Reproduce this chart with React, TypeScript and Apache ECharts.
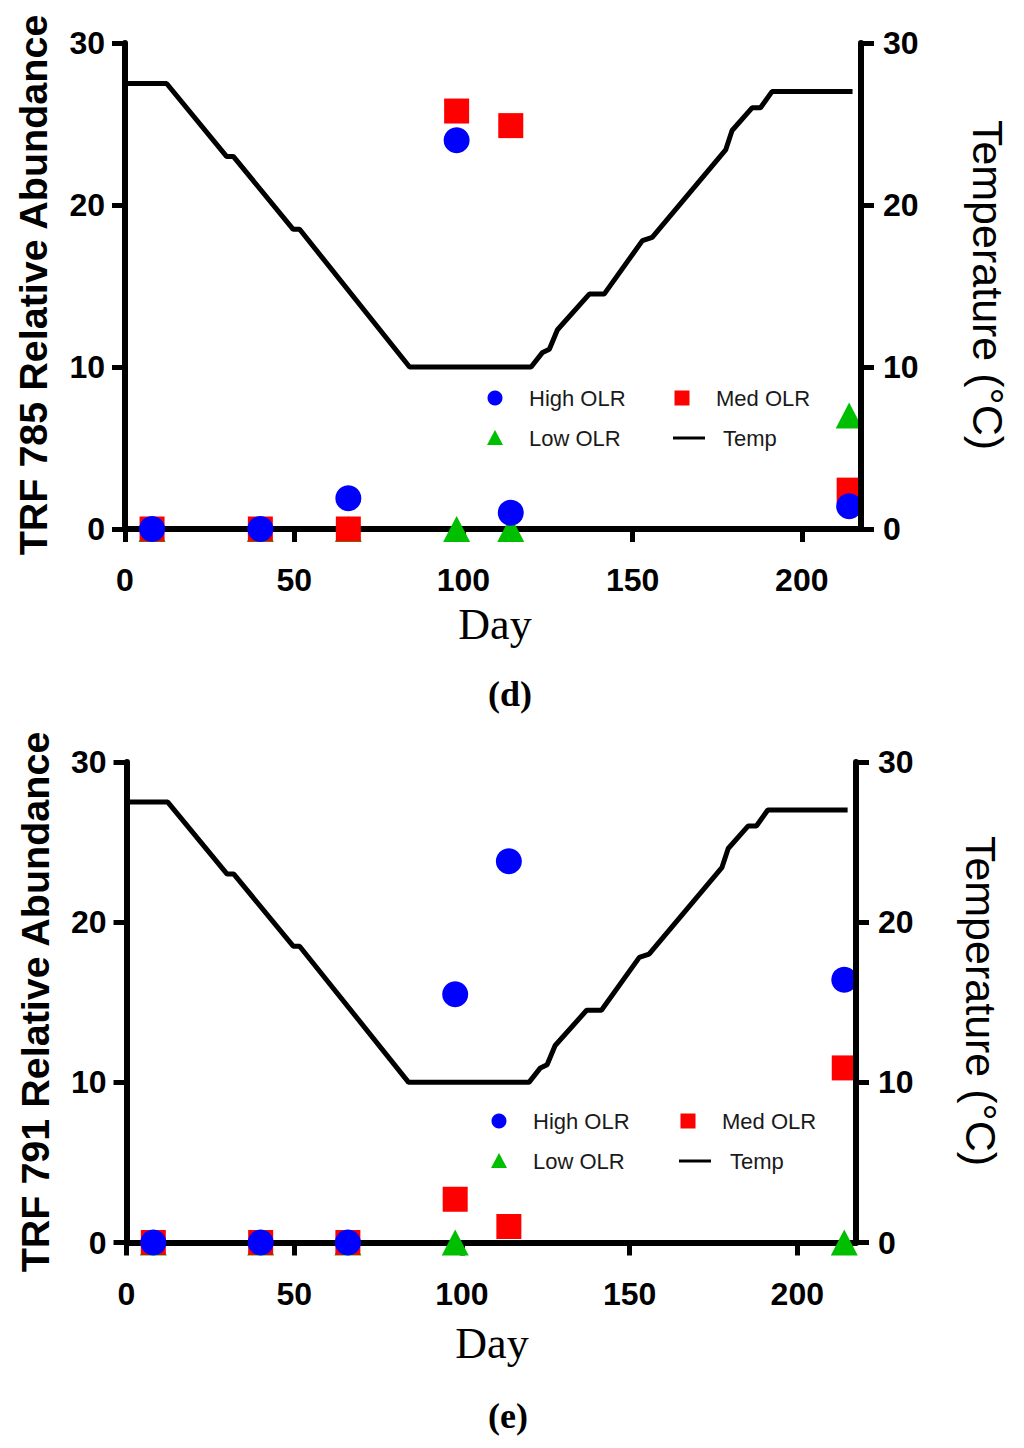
import React, { useEffect, useRef } from "react";
import * as echarts from "echarts";

// ---- data ----
const sampleDays = [8, 40, 66, 98, 114, 214];

const highOLR_d = [0, 0, 1.9, 24.0, 1.0, 1.4];
const medOLR_d = [0, 0, 0, 25.8, 24.9, 2.4];
const lowOLR_d = [0, 0, 0, 0, 0, 7.0];

const highOLR_e = [0, 0, 0, 15.5, 23.8, 16.4];
const medOLR_e = [0, 0, 0, 2.7, 1.0, 10.9];
const lowOLR_e: (number | null)[] = [0, 0, 0, 0, null, 0];

const tempDays = [0, 12.3, 30, 32, 49.7, 51.6, 84.1, 120, 123.4, 125.4, 127.8, 137.2, 141.6, 152.9, 155.8, 177.5, 179.4, 185.3, 187.8, 191.2, 215];
const tempValues = [27.5, 27.5, 23.0, 23.0, 18.5, 18.5, 10.0, 10.0, 10.9, 11.1, 12.3, 14.5, 14.5, 17.8, 18.0, 23.4, 24.6, 26.0, 26.0, 27.0, 27.0];

const xTicks = [0, 50, 100, 150, 200];
const yTicks = [0, 10, 20, 30];
const legendNames = ["High OLR", "Med OLR", "Low OLR", "Temp"];

const BLUE = "#0000FF";
const RED = "#FF0000";
const GREEN = "#00BE00";

export default function App() {
  const ref = useRef<HTMLDivElement>(null);

  useEffect(() => {
    if (!ref.current) return;
    const chart = echarts.init(ref.current, null, { renderer: "svg" });

    const pair = (vals: (number | null)[]) =>
      sampleDays.map((d, i) => (vals[i] === null ? [d, "-"] : [d, vals[i]]));
    const tempPairs = tempDays.map((d, i) => [d, tempValues[i]]);

    const xMax = 217.5;
    const axisLine = { show: true, lineStyle: { color: "#000", width: 6 } };
    const axisTick = { show: true, length: 13, lineStyle: { color: "#000", width: 5 } };
    const labelFont = {
      fontFamily: "Liberation Sans, Arial, sans-serif",
      fontWeight: "bold" as const,
      fontSize: 32,
      color: "#000",
    };

    const grids = [
      { left: 125, top: 43, width: 736, height: 486 },
      { left: 126.5, top: 762, width: 729.5, height: 480.5 },
    ];

    const xAxes = grids.map((_, gi) => ({
      type: "value",
      gridIndex: gi,
      min: 0,
      max: xMax,
      interval: 50,
      axisLine,
      axisTick,
      splitLine: { show: false },
      axisLabel: {
        ...labelFont,
        margin: 35,
        showMaxLabel: false,
        formatter: (v: number) => (xTicks.includes(v) ? String(v) : ""),
      },
    }));

    const yAxes: any[] = [];
    grids.forEach((_, gi) => {
      yAxes.push({
        type: "value",
        gridIndex: gi,
        position: "left",
        min: 0,
        max: 30,
        interval: 10,
        axisLine,
        axisTick,
        splitLine: { show: false },
        axisLabel: { ...labelFont, margin: 20, formatter: (v: number) => (yTicks.includes(v) ? String(v) : "") },
      });
      yAxes.push({
        type: "value",
        gridIndex: gi,
        position: "right",
        min: 0,
        max: 30,
        interval: 10,
        z: 5,
        axisLine,
        axisTick,
        splitLine: { show: false },
        axisLabel: { ...labelFont, margin: 22, formatter: (v: number) => (yTicks.includes(v) ? String(v) : "") },
      });
    });

    const panels = [
      { high: highOLR_d, med: medOLR_d, low: lowOLR_d },
      { high: highOLR_e, med: medOLR_e, low: lowOLR_e },
    ];

    const series: any[] = [];
    panels.forEach((p, gi) => {
      series.push({
        name: "Temp",
        type: "line",
        xAxisIndex: gi,
        yAxisIndex: gi * 2 + 1,
        data: tempPairs,
        showSymbol: false,
        symbol: "none",
        lineStyle: { color: "#000", width: 5 },
        z: 2,
      });
      series.push({
        name: "Low OLR",
        type: "scatter",
        xAxisIndex: gi,
        yAxisIndex: gi * 2,
        data: pair(p.low),
        symbol: "triangle",
        symbolSize: [27, 26],
        itemStyle: { color: GREEN, opacity: 1 },
        z: 3,
      });
      series.push({
        name: "Med OLR",
        type: "scatter",
        xAxisIndex: gi,
        yAxisIndex: gi * 2,
        data: pair(p.med),
        symbol: "rect",
        symbolSize: 25,
        itemStyle: { color: RED, opacity: 1 },
        z: 3,
      });
      series.push({
        name: "High OLR",
        type: "scatter",
        xAxisIndex: gi,
        yAxisIndex: gi * 2,
        data: pair(p.high),
        symbol: "circle",
        symbolSize: 26,
        itemStyle: { color: BLUE, opacity: 1 },
        z: 4,
      });
    });

    // legends and titles (graphic)
    const legendText = (x: number, y: number, text: string) => ({
      type: "text",
      x,
      y,
      style: {
        text,
        fontFamily: "Liberation Sans, Arial, sans-serif",
        fontSize: 22,
        fill: "#1a1a1a",
        textAlign: "left",
        textVerticalAlign: "middle",
      },
    });
    const legendBlock = (cx1: number, cy1: number, tx1: number, cx2: number, tx2: number, lx2: number, ty2: number) => [
      { type: "circle", shape: { cx: cx1, cy: cy1, r: 7.5 }, style: { fill: BLUE } },
      legendText(tx1, cy1, legendNames[0]),
      { type: "rect", shape: { x: cx2 - 7.5, y: cy1 - 7.5, width: 15, height: 15 }, style: { fill: RED } },
      legendText(tx2, cy1, legendNames[1]),
      {
        type: "polygon",
        shape: { points: [[cx1, ty2 - 8], [cx1 + 8, ty2 + 7], [cx1 - 8, ty2 + 7]] },
        style: { fill: GREEN },
      },
      legendText(tx1, ty2, legendNames[2]),
      { type: "line", shape: { x1: cx2 - 9, y1: ty2, x2: cx2 + 23, y2: ty2 }, style: { stroke: "#000", lineWidth: 3 } },
      legendText(lx2, ty2, legendNames[3]),
    ];

    const bigText = (
      x: number,
      y: number,
      text: string,
      rotation: number,
      family: string,
      size: number,
      weight: string
    ) => ({
      type: "text",
      x,
      y,
      rotation,
      style: {
        text,
        fontFamily: family,
        fontSize: size,
        fontWeight: weight,
        fill: "#000",
        textAlign: "center",
        textVerticalAlign: "middle",
      },
    });

    const sans = "Liberation Sans, Arial, sans-serif";
    const serif = "Liberation Serif, Times New Roman, serif";

    const graphic = [
      ...legendBlock(495, 398, 529, 682, 716, 723, 438),
      ...legendBlock(499, 1121, 533, 688, 722, 730, 1161),
      bigText(33, 285, "TRF 785 Relative Abundance", Math.PI / 2, sans, 39.5, "bold"),
      bigText(35, 1002, "TRF 791 Relative Abundance", Math.PI / 2, sans, 39.5, "bold"),
      bigText(988, 285, "Temperature (°C)", -Math.PI / 2, sans, 43, "normal"),
      bigText(981, 1001, "Temperature (°C)", -Math.PI / 2, sans, 43, "normal"),
      bigText(495, 624, "Day", 0, serif, 44, "normal"),
      bigText(492, 1343, "Day", 0, serif, 44, "normal"),
      bigText(510, 694, "(d)", 0, serif, 36, "bold"),
      bigText(508, 1416, "(e)", 0, serif, 36, "bold"),
    ];

    chart.setOption({
      animation: false,
      backgroundColor: "#fff",
      grid: grids,
      xAxis: xAxes,
      yAxis: yAxes,
      series,
      graphic,
    });

    return () => chart.dispose();
  }, []);

  return (
    <div
      ref={ref}
      style={{ position: "absolute", left: 0, top: 0, width: 1024, height: 1448, background: "#fff" }}
    />
  );
}
